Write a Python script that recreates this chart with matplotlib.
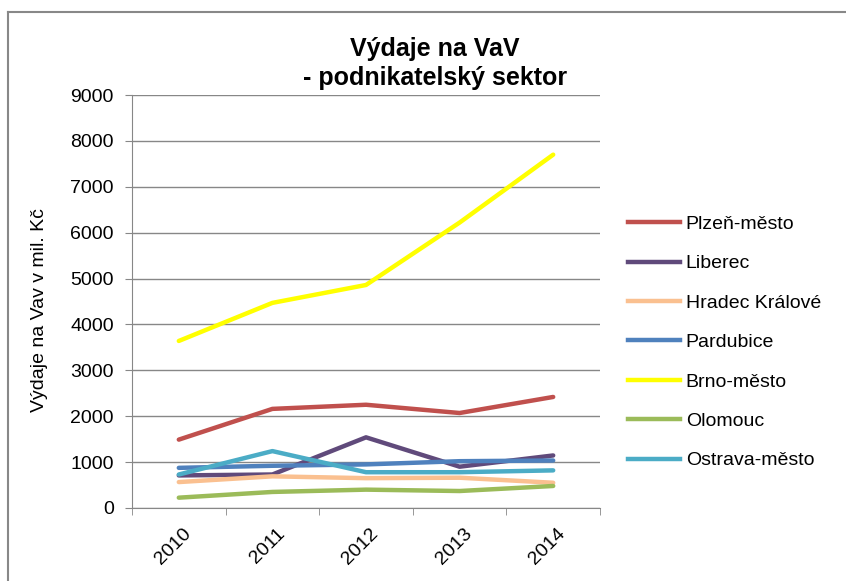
import numpy as np
import matplotlib
matplotlib.use("Agg")
import matplotlib.pyplot as plt
from matplotlib.lines import Line2D

plt.rcParams['font.family'] = ['Liberation Sans', 'DejaVu Sans']

years = ["2010", "2011", "2012", "2013", "2014"]
plzen = [1490, 2160, 2250, 2070, 2420]
liberec = [710, 730, 1540, 900, 1145]
hradec = [565, 690, 650, 660, 550]
pardubice = [875, 920, 950, 1020, 1035]
brno = [3640, 4470, 4860, 6220, 7700]
olomouc = [225, 350, 400, 370, 480]
ostrava = [730, 1240, 780, 780, 820]

series = [
    ("Plzeň-město", plzen, "#C0504D"),
    ("Liberec", liberec, "#604A7B"),
    ("Hradec Králové", hradec, "#FAC090"),
    ("Pardubice", pardubice, "#4F81BD"),
    ("Brno-město", brno, "#FFFF00"),
    ("Olomouc", olomouc, "#9BBB59"),
    ("Ostrava-město", ostrava, "#4BACC6"),
]

fs = 14
fig = plt.figure(figsize=(8.46, 5.81), dpi=100)
ax = fig.add_axes([132 / 846, 1 - 508 / 581, 468 / 846, 413 / 581])

x = np.arange(len(years))
for name, vals, col in series:
    ax.plot(x, vals, color=col, lw=3.2, label=name, solid_capstyle='round')

ax.set_xlim(-0.5, 4.5)
ax.set_ylim(0, 9000)
ax.set_yticks(range(0, 9001, 1000))
ax.yaxis.grid(True, color="#878787", lw=1)
ax.set_axisbelow(True)
for s in ["top", "right"]:
    ax.spines[s].set_visible(False)
for s in ["left", "bottom"]:
    ax.spines[s].set_color("#878787")
ax.tick_params(axis='y', length=5, color="#878787", labelsize=fs, pad=8)

ax.set_xticks(x + 0.04)
ax.set_xticklabels(years, rotation=45, ha='right', rotation_mode='anchor', fontsize=fs)
ax.tick_params(axis='x', which='major', length=0, pad=12)
ax.set_xticks(np.arange(-0.5, 5, 1), minor=True)
ax.tick_params(axis='x', which='minor', length=5, color="#878787")

ax.set_ylabel("Výdaje na Vav v mil. Kč", fontsize=fs)
ax.yaxis.set_label_coords((48 - 132) / 468, (508 - 310) / 413)

fig.text(435 / 846, 1 - 49 / 581, "Výdaje na VaV", ha='center', va='center',
         fontsize=18, fontweight='bold')
fig.text(435 / 846, 1 - 78 / 581, "- podnikatelský sektor", ha='center', va='center',
         fontsize=18, fontweight='bold')

handles = [Line2D([], [], color=c, lw=3.2) for _, _, c in series]
fig.legend(handles, [n for n, _, _ in series], loc='upper left',
           bbox_to_anchor=(610 / 846, 1 - 198 / 581), frameon=False, fontsize=fs,
           handlelength=2.7, handletextpad=0.3, labelspacing=1.12)

# chart border (left and top edges)
fig.add_artist(Line2D([8 / 846, 8 / 846], [0, 1 - 12 / 581], color="#888888", lw=1.5))
fig.add_artist(Line2D([8 / 846, 1], [1 - 12 / 581, 1 - 12 / 581], color="#888888", lw=1.5))

fig.savefig("out.png", dpi=100)
